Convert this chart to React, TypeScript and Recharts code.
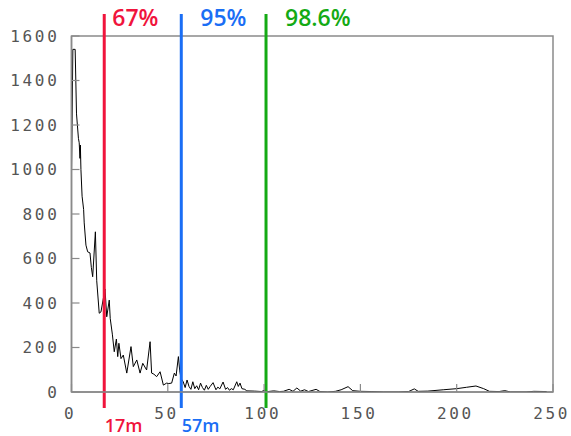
import React from 'react';
import { LineChart, Line, XAxis, YAxis, ReferenceLine, ReferenceArea } from 'recharts';

// Distance (m) at which each count was read
const distances = [
  0, 0.7, 1.9, 2.6, 3.6, 4.0, 4.4, 4.6, 4.9, 5.5, 6.3, 6.6, 7.5, 8.4, 9.6, 10.3, 11.0, 12.4, 13.1,
  14.4, 15.3, 17.4, 18.3, 19.6, 20.1, 21.2, 22.2, 23.3, 24.0, 24.6, 25.7, 26.9, 28.7, 30.9, 32.1,
  33.9, 35.6, 37.0, 39.0, 40.8, 41.6, 42.8, 44.2, 46.0, 47.7, 49.4, 50.5, 52.0, 53.4, 54.3, 55.5,
  56.2, 56.9, 58.0, 59.0, 60.0, 61.0, 62.0, 63.0, 64.0, 65.0, 66.0, 67.0, 68.0, 69.0, 70.0, 71.0,
  72.0, 73.5, 75.0, 76.0, 77.0, 78.7, 80.0, 81.0, 82.0, 83.0, 84.0, 85.8, 86.6, 87.5, 88.5, 90.0,
  91.0, 95.0, 98.8, 100, 102, 105, 108, 110, 113, 115, 117, 119, 121, 123, 127, 129, 133, 137, 140,
  143.6, 146, 150, 156, 162, 170, 175, 178, 180, 185, 193, 200, 205, 210, 214, 217, 222, 225, 228,
  236, 240, 246.7,
];

// Number of occurrences at each distance
const counts = [
  990, 1540, 1540, 1250, 1140, 1120, 1050, 1110, 1000, 880, 820, 760, 660, 630, 625, 560, 518, 720, 500,
  354, 360, 463, 338, 413, 331, 260, 181, 238, 159, 219, 150, 166, 85, 204, 114,
  144, 85, 129, 99, 226, 85, 80, 69, 91, 31, 40, 38, 40, 85, 72, 159,
  95, 60, 46, 20, 54, 25, 12, 46, 15, 28, 10, 40, 20, 8, 30, 12,
  25, 42, 10, 22, 14, 45, 12, 20, 8, 15, 10, 46, 25, 40, 15, 12,
  5, 4, 2, 8, 2, 5, 2, 3, 12, 3, 18, 4, 10, 2, 12, 2, 0, 3, 10,
  24, 6, 3, 2, 0, 0, 2, 14, 3, 4, 10, 15, 21, 27, 15, 3, 2, 6, 0,
  0, 3, 2,
];

const xTicks = [0, 50, 100, 150, 200, 250];
const yTicks = [0, 200, 400, 600, 800, 1000, 1200, 1400, 1600];
const xDomain = [0, 250];
const yDomain = [0, 1600];

// Cumulative-share markers
const markerDistances = [17, 57, 101];
const markerShares = ['67%', '95%', '98.6%'];
const markerDistanceLabels = ['17m', '57m', ''];
const markerColors = ['#f0143c', '#1a6ef5', '#14aa14'];

// horizontal gap between each marker line and its percentage label (px)
const shareLabelGaps = [8, 19, 19];

const data = distances.map((d, i) => ({ distance: d, count: counts[i] }));

const frameColor = '#8a8a8a';
const frameLine = { stroke: frameColor, strokeWidth: 1.5 };
const tickLine = { stroke: frameColor, strokeWidth: 1.2 };
const tickFont = {
  fill: '#555',
  fontSize: 16,
  fontFamily: '"DejaVu Sans Mono", monospace',
  letterSpacing: 2.7,
};

const makeMarker = (i: number) => (props: any) => {
  const { x1, y1, x2, y2 } = props;
  const x = (x1 + x2) / 2;
  const top = Math.min(y1, y2);
  const bottom = Math.max(y1, y2);
  const color = markerColors[i];
  return (
    <g>
      <line x1={x} y1={top} x2={x} y2={bottom} stroke={color} strokeWidth={3} />
      <text
        x={x + shareLabelGaps[i]}
        y={top + 12}
        fill={color}
        fontSize={23}
        fontWeight={600}
        fontFamily='"Open Sans", "Noto Sans", sans-serif'
      >
        {markerShares[i]}
      </text>
      {markerDistanceLabels[i] && (
        <text
          x={x + 0.5}
          y={bottom + 24}
          fill={color}
          fontSize={18}
          fontWeight={600}
          fontFamily='"Open Sans", "Noto Sans", sans-serif'
        >
          {markerDistanceLabels[i]}
        </text>
      )}
    </g>
  );
};

export default function App() {
  return (
    <div style={{ position: 'absolute', left: 0, top: 0 }}>
      <LineChart
        width={571}
        height={436}
        data={data}
        margin={{ top: 36, right: 18, bottom: 0, left: 11.5 }}
      >
        <XAxis
          dataKey="distance"
          type="number"
          domain={xDomain}
          ticks={xTicks}
          height={44}
          axisLine={frameLine}
          tickLine={tickLine}
          tickSize={-8}
          tickMargin={24}
          tick={{ ...tickFont, dx: -1.3 }}
          allowDataOverflow
        />
        <XAxis
          xAxisId="top"
          orientation="top"
          dataKey="distance"
          type="number"
          domain={xDomain}
          ticks={xTicks}
          height={0}
          axisLine={frameLine}
          tickLine={tickLine}
          tickSize={-8}
          tickFormatter={() => ''}
        />
        <YAxis
          domain={yDomain}
          ticks={yTicks}
          width={60}
          axisLine={frameLine}
          tickLine={tickLine}
          tickSize={-8}
          tickMargin={20}
          tick={tickFont}
          allowDataOverflow
        />
        <YAxis
          yAxisId="right"
          orientation="right"
          domain={yDomain}
          ticks={yTicks}
          width={0}
          axisLine={frameLine}
          tickLine={tickLine}
          tickSize={-8}
          tickFormatter={() => ''}
        />
        {/* plot frame */}
        <ReferenceArea
          x1={xDomain[0]}
          x2={xDomain[1]}
          y1={yDomain[0]}
          y2={yDomain[1]}
          fill="none"
          fillOpacity={0}
          stroke={frameColor}
          strokeWidth={1.5}
          strokeOpacity={1}
          ifOverflow="visible"
        />
        <Line
          type="linear"
          dataKey="count"
          stroke="#000"
          strokeWidth={1}
          dot={false}
          isAnimationActive={false}
        />
        {markerDistances.map((d, i) => (
          <ReferenceLine
            key={d}
            segment={[
              { x: d, y: -72 },
              { x: d, y: 1699 },
            ]}
            ifOverflow="visible"
            stroke={markerColors[i]}
            shape={makeMarker(i)}
          />
        ))}
      </LineChart>
    </div>
  );
}
